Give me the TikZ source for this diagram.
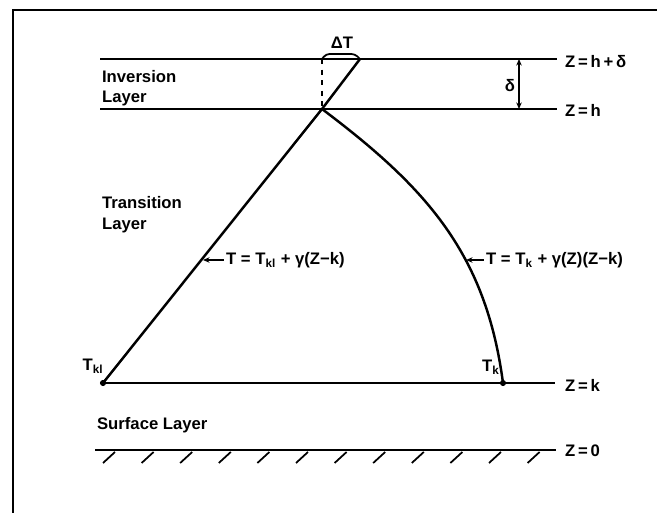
\documentclass[tikz,border=0pt]{standalone}
\usepackage{fontspec}
\setmainfont{Liberation Sans}
\usetikzlibrary{arrows.meta, positioning}

\begin{document}
\begin{tikzpicture}[
    x=0.02cm, y=-0.02cm,
    lvl/.style={line width=1.2pt},
    prof/.style={line width=1.4pt},
    txt/.style={font=\fontsize{9.5}{11}\selectfont\bfseries, inner sep=1pt},
    zlbl/.style={txt, anchor=west},
    tick/.style={line width=1pt, {Stealth[length=1.3mm, width=1.1mm]}-},
    dim/.style={line width=1pt, {Stealth[length=1.3mm, width=1.1mm]}-{Stealth[length=1.3mm, width=1.1mm]}},
    pt/.style={circle, fill, inner sep=0pt, minimum size=3.5pt}
]
    \useasboundingbox (0,0) rectangle (657,513);
    % frame
    \draw[line width=1pt] (13,513) -- (13,10) -- (657,10);

    % levels
    \coordinate (hdL) at (100,59);
    \coordinate (hdR) at (557,59);
    \coordinate (hL) at (100,109);
    \coordinate (hR) at (557,109);
    \node[pt] (Tkl) at (103,383) {};
    \node[pt] (Tk) at (503,383) {};
    \coordinate (kR) at (555,383);
    \coordinate (zL) at (95,450);
    \coordinate (zR) at (556,450);

    \draw[lvl] (hdL) -- (hdR);
    \draw[lvl] (hL) -- (hR);
    \draw[lvl] (Tkl.center) -- (kR);
    \draw[lvl] (zL) -- (zR);
    \foreach \i in {0,...,11}
        \draw[line width=1pt] ({103+38.6*\i},463) -- ++(12,-11);

    \node[zlbl] (zhd) at (563,62) {Z\,=\,h\,+\,δ};
    \node[zlbl] (zh) at (563,110) {Z\,=\,h};
    \node[zlbl] (zk) at (563,385) {Z\,=\,k};
    \node[zlbl] (z0) at (563,451) {Z\,=\,0};

    % layer names
    \node[txt, anchor=west] (inv) at (100,77) {Inversion};
    \node[txt, anchor=west] (invl) at (100,98) {Layer};
    \node[txt, anchor=west] (tra) at (100,203) {Transition};
    \node[txt, anchor=west] (tral) at (100,225) {Layer};
    \node[txt, anchor=west] (surf) at (95,425) {Surface Layer};

    % temperature profiles
    \coordinate (apex) at (322,109);
    \coordinate (top) at (360,59);
    \coordinate (dash) at (322,59);
    \draw[prof] (Tkl.center) -- (apex) -- (top);
    \draw[prof] (apex) .. controls (427,188) and (486,254) .. (Tk.center);
    \draw[dashed, line width=1pt] (dash) -- (apex);
    \draw[line width=1pt, rounded corners=2pt] (dash) -- (326,54) -- (355,54) -- (top);
    \node[txt] (dT) at (342,43) {ΔT};

    \node[txt, anchor=east] (del) at (517,86) {δ};
    \coordinate (dtop) at (519,59);
    \coordinate (dbot) at (519,109);
    \draw[dim] (dtop) -- (dbot);

    \node[txt] (lTkl) at (93,366) {T\textsubscript{kl}};
    \node[txt] (lTk) at (491,367) {T\textsubscript{k}};

    \coordinate (pl) at (203,260);
    \coordinate (pr) at (466,260);
    \node[txt, anchor=west] (fl) at (224,260) {T = T\textsubscript{kl} + γ(Z−k)};
    \node[txt, anchor=west] (fr) at (484,260) {T = T\textsubscript{k} + γ(Z)(Z−k)};
    \draw[tick] (pl) -- (fl.west);
    \draw[tick] (pr) -- (fr.west);
\end{tikzpicture}
\end{document}
